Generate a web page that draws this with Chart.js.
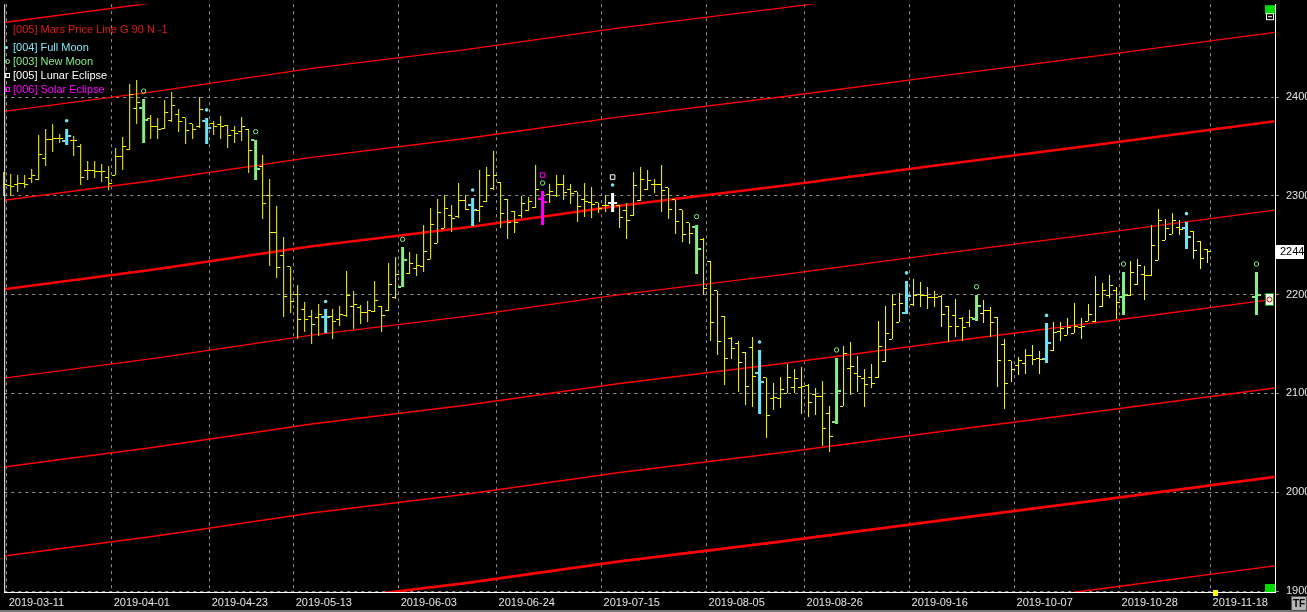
<!DOCTYPE html>
<html>
<head>
<meta charset="utf-8">
<title>Mars Price Line</title>
<script src="https://cdn.jsdelivr.net/npm/chart.js@4.4.1/dist/chart.umd.min.js"></script>
<style>
  html, body { margin:0; padding:0; background:#000; overflow:hidden; }
  #wrap { position:relative; width:1307px; height:612px; background:#000; }
  #c { position:absolute; left:0; top:0; }
  .lg { position:absolute; left:13px; font-family:"Liberation Sans", Arial, sans-serif; font-size:11px; line-height:14px; white-space:nowrap; pointer-events:none; }
  .ic { position:absolute; box-sizing:border-box; pointer-events:none; }
</style>
</head>
<body>
<div id="wrap">
  <canvas id="c" width="1307" height="612"></canvas>
  <div class="lg" style="top:22px;color:#e31a1a">[005] Mars Price Line G 90 N -1</div>
  <div class="ic" style="left:5px;top:46px;width:3px;height:3px;background:#80e6f7;border-radius:50%"></div>
  <div class="lg" style="top:40px;color:#80e6f7">[004] Full Moon</div>
  <div class="ic" style="left:5px;top:59px;width:5px;height:5px;border:1px solid #88ee88;border-radius:50%"></div>
  <div class="lg" style="top:54px;color:#88ee88">[003] New Moon</div>
  <div class="ic" style="left:5px;top:73px;width:5px;height:5px;border:1px solid #ffffff"></div>
  <div class="lg" style="top:68px;color:#ffffff">[005] Lunar Eclipse</div>
  <div class="ic" style="left:5px;top:87px;width:5px;height:5px;border:1px solid #ff00ff"></div>
  <div class="lg" style="top:82px;color:#ff00ff">[006] Solar Eclipse</div>
</div>
<script>
// ---------------- DATA ----------------
// bar number of the first entry in the OHLC arrays (bar 0 = 2019-03-11)
const firstBar = -1;

const opens = [
  2311,2310,2311,2313,2318,2317,2338,2357,2358,2356,
  2356,2350,2326,2326,2325,2319,2321,2340,2347,2388,
  2389,2378,2370,2368,2376,2382,2379,2373,2370,2376,
  2373,2372,2371,2366,2365,2367,2357,2330,2300,2263,
  2240,2228,2200,2185,2178,2177,2177,2178,2175,2179,
  2188,2187,2182,2183,2188,2184,2197,2208,2221,2226,
  2228,2236,2252,2267,2280,2279,2295,2291,2285,2294,
  2307,2314,2296,2284,2280,2285,2288,2297,2301,2300,
  2311,2306,2304,2296,2293,2293,2290,2293,2290,2285,
  2280,2295,2306,2311,2311,2308,2296,2286,2273,2268,
  2256,2234,2204,2178,2156,2151,2141,2147,2121,2116,
  2095,2095,2100,2106,2106,2108,2099,2097,2080,2071,
  2087,2125,2120,2115,2116,2116,2132,2155,2172,2181,
  2190,2200,2199,2197,2198,2188,2179,2176,2172,2175,
  2181,2184,2177,2150,2133,2128,2130,2138,2135,2135,
  2143,2163,2159,2161,2167,2173,2173,2188,2199,2204,
  2198,2199,2210,2220,2219,2235,2255,2261,2268,2267,
  2264,2254,2246,null,null,null,null,null,null,2198
];
const highs = [
  2324,2322,2321,2321,2327,2362,2368,2373,2363,2368,
  2361,2352,2335,2335,2332,2330,2348,2360,2413,2417,
  2398,2382,2379,2397,2405,2388,2379,2373,2400,2379,
  2376,2381,2372,2371,2380,2368,2357,2341,2317,2290,
  2258,2228,2210,2193,2184,2191,2185,2185,2189,2224,
  2204,2190,2194,2214,2189,2232,2238,2248,2243,2241,
  2270,2288,2297,2301,2291,2313,2301,2298,2326,2329,
  2345,2314,2297,2285,2300,2299,2331,2305,2312,2321,
  2321,2312,2304,2313,2309,2293,2301,2303,2291,2293,
  2324,2329,2326,2317,2331,2308,2296,2286,2273,2271,
  2257,2234,2204,2178,2157,2153,2142,2157,2144,2116,
  2111,2117,2130,2125,2127,2110,2106,2113,2087,2136,
  2148,2152,2138,2125,2130,2173,2189,2201,2202,2214,
  2216,2213,2208,2204,2200,2189,2196,2177,2184,2200,
  2195,2187,2177,2155,2133,2137,2145,2149,2143,2171,
  2172,2172,2176,2192,2176,2191,2219,2212,2220,2208,
  2223,2234,2236,2229,2271,2287,2277,2283,2276,2274,
  2264,2254,2246,null,null,null,null,null,null,2223
];
const lows = [
  2300,2300,2304,2308,2313,2316,2330,2344,2354,2351,
  2340,2311,2316,2318,2314,2306,2321,2326,2346,2373,
  2353,2358,2358,2368,2375,2365,2352,2358,2369,2352,
  2362,2358,2348,2353,2356,2323,2316,2277,2229,2217,
  2177,2181,2155,2162,2150,2158,2161,2155,2168,2177,
  2165,2170,2172,2182,2162,2183,2196,2208,2221,2219,
  2223,2236,2252,2267,2263,2278,2286,2269,2274,2294,
  2306,2267,2256,2262,2278,2285,2288,2271,2293,2299,
  2296,2292,2274,2279,2278,2283,2284,2284,2267,2256,
  2280,2295,2306,2303,2284,2277,2261,2253,2251,2221,
  2200,2153,2139,2109,2135,2101,2088,2086,2079,2055,
  2083,2085,2100,2100,2079,2076,2078,2047,2041,2069,
  2087,2098,2101,2086,2105,2116,2132,2155,2172,2180,
  2188,2187,2185,2187,2167,2152,2157,2153,2167,2173,
  2171,2157,2107,2084,2112,2119,2120,2129,2120,2131,
  2143,2153,2159,2161,2155,2173,2172,2187,2197,2175,
  2179,2199,2210,2195,2219,2235,2255,2261,2260,2246,
  2236,2226,2232,null,null,null,null,null,null,2179
];
const closes = [
  2311,2309,2312,2311,2321,2342,2357,2358,2358,2361,
  2356,2319,2326,2325,2325,2313,2340,2350,2403,2395,
  2377,2370,2367,2384,2391,2375,2366,2367,2387,2369,
  2370,2370,2361,2363,2370,2346,2327,2292,2263,2227,
  2198,2193,2175,2175,2170,2180,2177,2173,2180,2199,
  2190,2182,2184,2194,2179,2210,2220,2235,2232,2230,
  2244,2271,2283,2287,2277,2295,2286,2286,2289,2321,
  2321,2282,2273,2273,2292,2294,2306,2294,2304,2311,
  2303,2302,2289,2294,2291,2287,2290,2293,2278,2275,
  2310,2317,2316,2311,2305,2286,2274,2261,2262,2246,
  2206,2172,2153,2135,2145,2131,2107,2117,2112,2078,
  2096,2104,2116,2115,2107,2091,2097,2065,2056,2102,
  2140,2127,2117,2109,2110,2148,2161,2190,2191,2199,
  2199,2199,2197,2197,2180,2168,2168,2167,2177,2189,
  2184,2172,2133,2110,2124,2133,2138,2134,2134,2151,
  2162,2166,2167,2168,2168,2180,2200,2204,2209,2192,
  2200,2222,2230,2219,2250,2275,2267,2275,2266,2258,
  2245,2237,2244,null,null,null,null,null,null,2200
];

// moon events (bar numbers)
const fullMoonBars = [8, 28, 45, 66, 86, 107, 128, 148, 168];
const newMoonBars = [19, 35, 56, 76, 98, 118, 138, 159, 178];
const lunarEclipseBars = [86];
const solarEclipseBars = [76];

// x-axis date labels and the bar each one falls on
const tickLabels = ['2019-03-11','2019-04-01','2019-04-23','2019-05-13','2019-06-03','2019-06-24',
  '2019-07-15','2019-08-05','2019-08-26','2019-09-16','2019-10-07','2019-10-28','2019-11-18'];
const tickBars = [0, 15, 29, 41, 56, 70, 85, 100, 114, 129, 144, 159, 172];
const yTicks = [1900, 2000, 2100, 2200, 2300, 2400];

// Mars price line (base harmonic)
const marsLineBars = [-1.5, 20.5, 43, 65, 87, 110, 133.5, 155.5, 180.6];
const marsLineBase = [2205, 2225.5, 2249, 2268, 2290, 2310, 2332, 2352, 2375.5];
const marsHarmonics = [-5, -4, -3, -2, -1, 0, 1, 2, 3];
const marsStep = 90;

const moonMarkerValue = 2196;

// ---------------- STYLE ----------------
const YELLOW = '#ffff00', CYAN = '#6fe3f4', GREEN = '#86ee86', WHITE = '#ffffff', MAGENTA = '#ff00ff', RED = '#ff0000';
const GRID = '#8e8e8e';
const FONT = '"Liberation Sans", Arial, sans-serif';
const X_MIN = -0.9286, X_MAX = 180.643;   // 7 px per bar
const THIN_OFF = 2 / 7, WIDE_OFF = 3 / 7, GRID_SHIFT = -4 / 7;
const MARK_GAP = 8;

const lastClose = closes[closes.indexOf(null) - 1];
const highOf = b => highs[b - firstBar];

function eventColor(b) {
  if (solarEclipseBars.includes(b)) return MAGENTA;
  if (lunarEclipseBars.includes(b)) return WHITE;
  if (fullMoonBars.includes(b)) return CYAN;
  if (newMoonBars.includes(b)) return GREEN;
  return null;
}

const bars = opens.map((o, k) => ({ b: k + firstBar, o, h: highs[k], l: lows[k], c: closes[k] }))
                  .filter(r => r.o !== null);
const plain = bars.filter(r => !eventColor(r.b));
const special = bars.filter(r => eventColor(r.b));
const specialColors = special.map(r => eventColor(r.b));

const datasets = [];
marsHarmonics.forEach(k => datasets.push({
  type: 'line', label: 'Mars ' + k,
  data: marsLineBars.map((x, j) => ({ x, y: marsLineBase[j] + k * marsStep })),
  borderColor: RED, borderWidth: (k % 4 === 0) ? 2.6 : 1.4,
  pointRadius: 0, tension: 0, fill: false, order: 50
}));
datasets.push({
  type: 'bar', label: 'Price',
  data: plain.map(r => ({ x: r.b, y: [r.l, r.h] })),
  backgroundColor: YELLOW, borderWidth: 0, barThickness: 1, grouped: false,
  inflateAmount: 0, order: 40, clip: false
});
datasets.push({
  type: 'bar', label: 'Moon bars',
  data: special.map(r => ({ x: r.b, y: [r.l, r.h] })),
  backgroundColor: specialColors, borderWidth: 0, barThickness: 3, grouped: false,
  inflateAmount: 0, order: 40
});
function tickSet(rows, key, off, colors, width) {
  return {
    type: 'scatter', label: key, tickWidth: width,
    data: rows.map(r => ({ x: r.b + off, y: r[key] })),
    pointStyle: 'line', pointRadius: 1.5, pointHoverRadius: 1.5,
    pointBorderColor: colors, pointBorderWidth: width, pointBackgroundColor: colors,
    showLine: false, order: 30
  };
}
datasets.push(tickSet(plain, 'o', -THIN_OFF, YELLOW, 1));
datasets.push(tickSet(plain, 'c', THIN_OFF, YELLOW, 1));
datasets.push(tickSet(special, 'o', -WIDE_OFF, specialColors, 2));
datasets.push(tickSet(special, 'c', WIDE_OFF, specialColors, 2));

datasets.push({
  type: 'scatter', label: 'Full Moon',
  data: fullMoonBars.map(b => ({ x: b, y: highOf(b) + MARK_GAP })),
  pointStyle: 'circle', pointRadius: 1.8, pointHoverRadius: 1.8,
  pointBackgroundColor: CYAN, pointBorderWidth: 0, order: 20
});
datasets.push({
  type: 'scatter', label: 'New Moon',
  data: newMoonBars.map(b => ({ x: b, y: highOf(b) + MARK_GAP })),
  pointStyle: 'circle', pointRadius: 2.2, pointHoverRadius: 2.2,
  pointBackgroundColor: 'rgba(0,0,0,0)', pointBorderColor: GREEN, pointBorderWidth: 1, order: 20
});
const eclipseBars = lunarEclipseBars.concat(solarEclipseBars);
datasets.push({
  type: 'scatter', label: 'Eclipse',
  data: eclipseBars.map(b => ({ x: b, y: highOf(b) + 2 * MARK_GAP })),
  pointStyle: 'rect', pointRadius: 3.2, pointHoverRadius: 3.2,
  pointBackgroundColor: 'rgba(0,0,0,0)',
  pointBorderColor: eclipseBars.map(b => lunarEclipseBars.includes(b) ? WHITE : MAGENTA),
  pointBorderWidth: 1, order: 20
});

// snap bar ends and OHLC ticks to whole pixels so they render crisp
const crisp = {
  id: 'crisp',
  beforeDatasetsDraw(chart) {
    chart.data.datasets.forEach((ds, i) => {
      const meta = chart.getDatasetMeta(i);
      if (ds.type === 'bar') {
        meta.data.forEach(el => { el.y = Math.round(el.y); el.base = Math.round(el.base); });
      } else if (ds.pointStyle === 'line') {
        meta.data.forEach(el => { el.y = ds.tickWidth === 2 ? Math.round(el.y) : Math.floor(el.y) + 0.5; });
      }
    });
  }
};

const deco = {
  id: 'deco',
  beforeDraw(chart) {
    const ctx = chart.ctx;
    ctx.save(); ctx.fillStyle = '#000'; ctx.fillRect(0, 0, chart.width, chart.height); ctx.restore();
  },
  afterDraw(chart) {
    const { ctx, chartArea: a, scales: { x, y } } = chart;
    ctx.save();
    // left frame line
    ctx.strokeStyle = '#ffffff'; ctx.lineWidth = 1;
    ctx.beginPath(); ctx.moveTo(a.left + 0.5, a.top); ctx.lineTo(a.left + 0.5, a.bottom); ctx.stroke();
    // corner markers
    ctx.fillStyle = '#00dd00';
    ctx.fillRect(a.right - 10, a.top + 1, 10, 9);
    ctx.fillRect(a.right - 10, a.bottom - 8, 10, 8);
    ctx.fillStyle = '#ffffff'; ctx.fillRect(a.right - 9, a.top + 9, 8, 7);
    ctx.fillStyle = '#000000'; ctx.fillRect(a.right - 8, a.top + 10, 6, 5);
    ctx.fillStyle = '#ffffff'; ctx.fillRect(a.right - 7, a.top + 12, 4, 1);
    // current bar marker on the date axis
    const cx = Math.round(x.getPixelForValue(tickBars[tickBars.length - 1]));
    ctx.fillStyle = YELLOW; ctx.fillRect(cx - 2, a.bottom - 2, 5, 6);
    // last price label
    const py = Math.round(y.getPixelForValue(lastClose));
    ctx.fillStyle = '#ffffff'; ctx.fillRect(a.right + 1, py - 6, 28, 14);
    ctx.fillStyle = '#000000'; ctx.font = '11px ' + FONT; ctx.textBaseline = 'middle'; ctx.textAlign = 'left';
    ctx.fillText(String(lastClose), a.right + 5, py + 1);
    // moon marker box at the right edge
    const my = Math.round(y.getPixelForValue(moonMarkerValue));
    ctx.fillStyle = '#ffffff'; ctx.fillRect(a.right - 9, my - 5, 7, 11);
    ctx.strokeStyle = '#00a000'; ctx.lineWidth = 1; ctx.strokeRect(a.right - 9.5, my - 5.5, 8, 12);
    ctx.strokeStyle = '#e00000'; ctx.beginPath(); ctx.arc(a.right - 5.5, my + 0.5, 2.5, 0, Math.PI * 2); ctx.stroke();
    // bottom strip and TF box
    ctx.fillStyle = '#7a7a7a'; ctx.fillRect(0, chart.height - 2, chart.width, 2);
    ctx.fillStyle = '#b4b4b4'; ctx.fillRect(1291, 596, 16, 15);
    ctx.strokeStyle = '#505050'; ctx.strokeRect(1291.5, 596.5, 15, 14);
    ctx.fillStyle = '#000000'; ctx.font = 'bold 10px ' + FONT; ctx.textAlign = 'center'; ctx.textBaseline = 'middle';
    ctx.fillText('TF', 1299, 604);
    ctx.restore();
  }
};

new Chart(document.getElementById('c'), {
  type: 'bar',
  data: { datasets },
  options: {
    responsive: false, animation: false, devicePixelRatio: 1, events: [],
    layout: { padding: { left: 4, top: 2, right: 0, bottom: 0 } },
    plugins: { legend: { display: false }, tooltip: { enabled: false }, title: { display: false } },
    scales: {
      x: {
        type: 'linear', position: 'bottom', min: X_MIN, max: X_MAX, offset: false,
        grid: { color: GRID, lineWidth: 1, drawTicks: false, offset: false },
        border: { display: true, color: '#ffffff', width: 1, dash: [3, 4] },
        ticks: {
          autoSkip: false, maxRotation: 0, minRotation: 0, align: 'start', labelOffset: 2, padding: 4,
          color: '#e6e6e6', font: { family: FONT, size: 11 },
          callback: (v, i) => tickLabels[i]
        },
        afterBuildTicks: s => { s.ticks = tickBars.map(b => ({ value: b + GRID_SHIFT })); },
        afterFit: s => { s.height = 20; s.paddingLeft = 0; s.paddingRight = 0; }
      },
      y: {
        type: 'linear', position: 'right', min: 1899, max: 2494,
        grid: { color: GRID, lineWidth: 1, drawTicks: true, tickLength: 6, tickColor: GRID, tickBorderDash: [3, 3] },
        border: { display: true, color: '#ffffff', width: 1, dash: [3, 4] },
        ticks: {
          padding: 5, color: '#e6e6e6', font: { family: FONT, size: 11 },
          callback: v => String(v)
        },
        afterBuildTicks: s => { s.ticks = yTicks.map(v => ({ value: v })); },
        afterFit: s => { s.width = 32; s.paddingTop = 0; s.paddingBottom = 0; }
      }
    }
  },
  plugins: [crisp, deco]
});
</script>
</body>
</html>
